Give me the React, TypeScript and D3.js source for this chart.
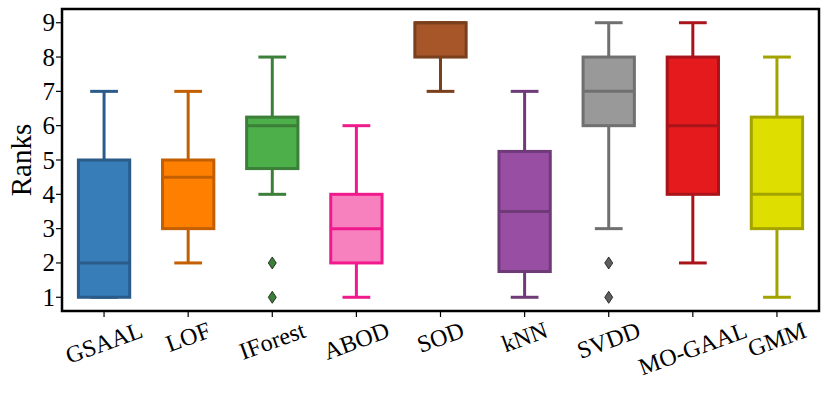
import React, { useEffect, useRef } from "react";
import * as d3 from "d3";

const categories = ["GSAAL", "LOF", "IForest", "ABOD", "SOD", "kNN", "SVDD", "MO-GAAL", "GMM"];
const whiskerLow = [1, 2, 4, 1, 7, 1, 3, 2, 1];
const q1 = [1, 3, 4.75, 2, 8, 1.75, 6, 4, 3];
const medians = [2, 4.5, 6, 3, 9, 3.5, 7, 6, 4];
const q3 = [5, 5, 6.25, 4, 9, 5.25, 8, 8, 6.25];
const whiskerHigh = [7, 7, 8, 6, 9, 7, 9, 9, 8];
const outliers: number[][] = [[], [], [1, 2], [], [], [], [1, 2], [], []];
const fillColors = ["#377eb8", "#ff7f00", "#4daf4a", "#f781bf", "#a65628", "#984ea3", "#999999", "#e41a1c", "#dede00"];
const edgeColors = ["#2b5b88", "#c35f00", "#3b7f39", "#f01a8c", "#7a3f1d", "#6f3a78", "#707070", "#a9141a", "#a3a300"];
const flierColors = ["#2b5b88", "#c35f00", "#3b7f39", "#f01a8c", "#7a3f1d", "#6f3a78", "#5e5e5e", "#a9141a", "#a3a300"];
const yTicks = [1, 2, 3, 4, 5, 6, 7, 8, 9];
const yLabel = "Ranks";

const W = 830, H = 394;
const M = { left: 62, right: 819, top: 9, bottom: 311 };

export default function App() {
  const ref = useRef<SVGSVGElement>(null);
  useEffect(() => {
    const svg = d3.select(ref.current!);
    svg.selectAll("*").remove();
    const x = d3.scaleBand<string>().domain(categories).range([M.left, M.right]).paddingInner(0).paddingOuter(0);
    const y = d3.scaleLinear().domain([0.6, 9.4]).range([M.bottom, M.top]);
    const bw = x.bandwidth();
    const boxW = bw * 0.61;
    const capW = bw * 0.33;
    const lw = 3;
    const font = "'Liberation Serif', 'Times New Roman', serif";

    const g = svg.append("g");
    categories.forEach((c, i) => {
      const cx = x(c)! + bw / 2;
      const gg = g.append("g");
      gg.append("line").attr("x1", cx).attr("x2", cx).attr("y1", y(q3[i])).attr("y2", y(whiskerHigh[i]))
        .attr("stroke", edgeColors[i]).attr("stroke-width", lw);
      gg.append("line").attr("x1", cx).attr("x2", cx).attr("y1", y(q1[i])).attr("y2", y(whiskerLow[i]))
        .attr("stroke", edgeColors[i]).attr("stroke-width", lw);
      [whiskerLow[i], whiskerHigh[i]].forEach((v) => {
        gg.append("line").attr("x1", cx - capW / 2).attr("x2", cx + capW / 2).attr("y1", y(v)).attr("y2", y(v))
          .attr("stroke", edgeColors[i]).attr("stroke-width", lw);
      });
      gg.append("rect").attr("x", cx - boxW / 2).attr("width", boxW)
        .attr("y", y(q3[i])).attr("height", y(q1[i]) - y(q3[i]))
        .attr("fill", fillColors[i]).attr("stroke", edgeColors[i]).attr("stroke-width", lw);
      gg.append("line").attr("x1", cx - boxW / 2).attr("x2", cx + boxW / 2).attr("y1", y(medians[i])).attr("y2", y(medians[i]))
        .attr("stroke", edgeColors[i]).attr("stroke-width", lw);
      outliers[i].forEach((v) => {
        const py = y(v);
        gg.append("path")
          .attr("d", `M${cx},${py - 6}L${cx + 4},${py}L${cx},${py + 6}L${cx - 4},${py}Z`)
          .attr("fill", flierColors[i]).attr("stroke", "#111").attr("stroke-width", 0.8);
      });
    });

    svg.append("rect").attr("x", M.left).attr("y", M.top).attr("width", M.right - M.left).attr("height", M.bottom - M.top)
      .attr("fill", "none").attr("stroke", "#000").attr("stroke-width", 2.5);

    yTicks.forEach((t) => {
      svg.append("line").attr("x1", M.left - 6).attr("x2", M.left).attr("y1", y(t)).attr("y2", y(t))
        .attr("stroke", "#000").attr("stroke-width", 1.2);
      svg.append("text").attr("x", M.left - 7).attr("y", y(t)).attr("dy", "0.34em")
        .attr("text-anchor", "end").attr("font-family", font).attr("font-size", 25).attr("fill", "#000").text(String(t));
    });
    const fs = 24;
    categories.forEach((c) => {
      const cx = x(c)! + bw / 2;
      svg.append("line").attr("x1", cx).attr("x2", cx).attr("y1", M.bottom).attr("y2", M.bottom + 6)
        .attr("stroke", "#000").attr("stroke-width", 1.2);
      const t = svg.append("text").attr("font-family", font).attr("font-size", fs).attr("fill", "#000")
        .attr("text-anchor", "middle").attr("dominant-baseline", "central").text(c);
      const w = (t.node() as SVGTextElement).getComputedTextLength();
      const h = fs * 0.72;
      const a = (20 * Math.PI) / 180;
      const bh = w * Math.sin(a) + h * Math.cos(a);
      const cy = M.bottom + 10 + bh / 2;
      t.attr("transform", `translate(${cx},${cy}) rotate(-20)`);
    });

    svg.append("text").attr("transform", `translate(31,${(M.top + M.bottom) / 2}) rotate(-90)`)
      .attr("text-anchor", "middle").attr("font-family", font).attr("font-size", 29).attr("fill", "#000").text(yLabel);
  }, []);
  return <svg ref={ref} width={W} height={H} style={{ position: "absolute", left: 0, top: 0, background: "#fff" }} />;
}
